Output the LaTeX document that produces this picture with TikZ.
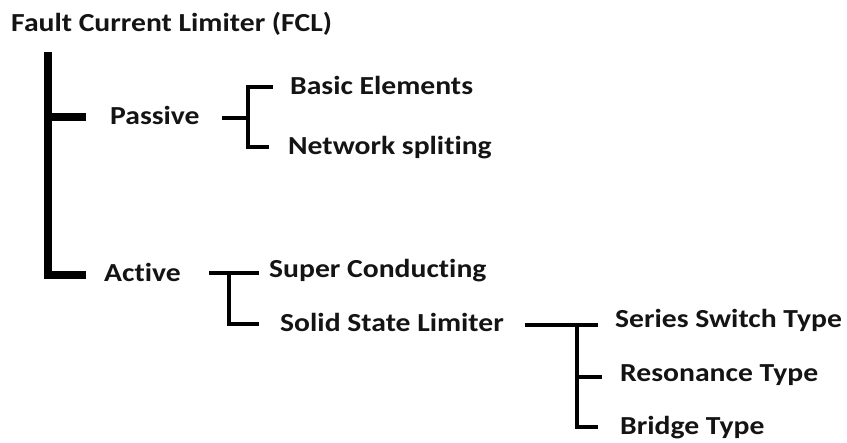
\documentclass[tikz,border=0pt]{standalone}
\usepackage{fontspec}
\setmainfont{Carlito}[BoldFont=Carlito Bold,FakeStretch=1.14,Ligatures=NoCommon]
\definecolor{ink}{HTML}{141414}
\begin{document}
\begin{tikzpicture}[x=1pt,y=-1pt,
  lbl/.style={anchor=base west,inner sep=0pt,text=ink,font=\fontsize{26}{30}\selectfont\bfseries},
  trunk/.style={line width=7.5pt,line cap=rect},
  twig/.style={line width=3.8pt},
  every path/.style={draw=black}]
\useasboundingbox[fill=white,draw=none] (0,0) rectangle (847,443);

% labels
\node[lbl] (fcl) at (11,32) {Fault Current Limiter (FCL)};
\node[lbl] (passive) at (110,125) {Passive};
\node[lbl] (basic) at (290,95) {Basic Elements};
\node[lbl] (network) at (288,155) {Network spliting};
\node[lbl] (active) at (104,282) {Active};
\node[lbl] (super) at (269,278) {Super Conducting};
\node[lbl] (solid) at (280,332) {Solid State Limiter};
\node[lbl] (series) at (615,328) {Series Switch Type};
\node[lbl] (reson) at (620,382) {Resonance Type};
\node[lbl] (bridge) at (620,435) {Bridge Type};

% main trunk
\coordinate (top) at (48,56);
\coordinate (passT) at (86,117);
\coordinate (actT) at (82,275);
\draw[trunk] (top) -- (48,275) -- (actT);
\draw[trunk,line cap=butt] (48,117) -- (passT);

% passive bracket
\coordinate (pIn) at (222,118);
\coordinate (pA) at (273,87);
\coordinate (pB) at (269,147);
\draw[twig] (pIn) -- (248,118);
\draw[twig] (pA) -- (248,87) -- (248,147) -- (pB);

% active bracket
\coordinate (aIn) at (209,273);
\coordinate (aA) at (259,273);
\coordinate (aB) at (259,324);
\draw[twig,line width=3.4pt] (aIn) -- (aA);
\draw[twig,line width=3.4pt] (229,273) -- (229,324) -- (aB);

% solid state bracket
\coordinate (sIn) at (525,325);
\coordinate (sA) at (598,325);
\coordinate (sB) at (602,377);
\coordinate (sC) at (598,427);
\draw[twig,line width=3.4pt] (sIn) -- (sA);
\draw[twig,line width=3.4pt] (577,325) -- (577,427) -- (sC);
\draw[twig,line width=3.4pt] (577,377) -- (sB);
\end{tikzpicture}
\end{document}
